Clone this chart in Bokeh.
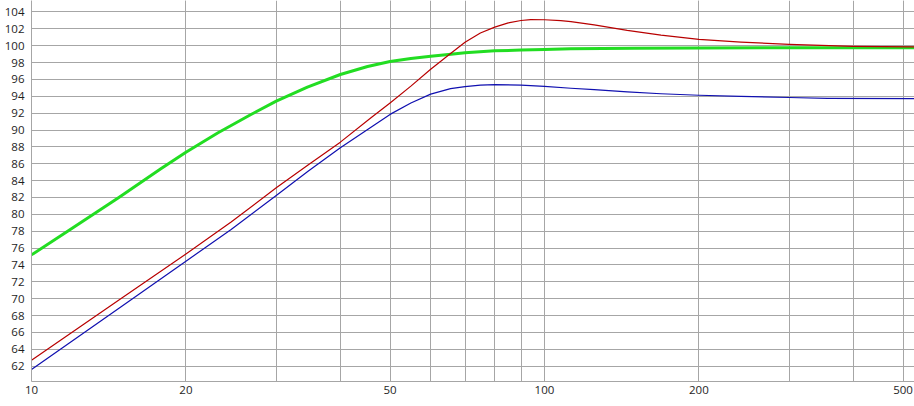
from bokeh.plotting import figure
from bokeh.models import FixedTicker, Range1d
from bokeh.embed import file_html
from bokeh.resources import INLINE

# ---- data (frequency in Hz, level in dB) ----
green_f = [10, 11.76, 14.8, 17.87, 20, 23.06, 26.78, 30, 34.5, 40, 45.2, 50, 54.9, 60,
           65.7, 70, 80, 90, 100, 112.6, 150, 200, 300, 400, 526.4]
green_db = [75.2, 78.0, 82.0, 85.4, 87.37, 89.65, 91.84, 93.42, 95.08, 96.58, 97.53,
            98.13, 98.48, 98.75, 98.98, 99.15, 99.38, 99.48, 99.55, 99.62, 99.7, 99.72,
            99.75, 99.75, 99.75]

red_f = [10, 15, 20, 24.5, 30, 34.6, 40, 45.9, 50, 54.9, 60, 65.7, 70, 75, 80, 85, 90,
         94, 100, 107.6, 112.6, 125, 145, 168.7, 200, 241.5, 300, 400, 526.4]
red_db = [62.7, 70.1, 75.3, 79.1, 83.15, 85.85, 88.56, 91.45, 93.2, 95.2, 97.2, 99.1,
          100.4, 101.5, 102.2, 102.7, 102.98, 103.08, 103.07, 102.97, 102.85, 102.45,
          101.8, 101.25, 100.75, 100.42, 100.15, 99.92, 99.85]

blue_f = [10, 15, 20, 24.5, 30, 34.6, 40, 45.9, 50, 54.9, 60, 65.6, 70, 75, 80, 90, 100,
          112.6, 125, 145, 168.7, 200, 241.5, 300, 356, 526.4]
blue_db = [61.6, 69.1, 74.45, 78.2, 82.24, 85.1, 87.9, 90.33, 91.85, 93.2, 94.25, 94.9,
           95.15, 95.32, 95.38, 95.33, 95.16, 94.95, 94.78, 94.52, 94.3, 94.12, 93.98,
           93.85, 93.76, 93.72]

x_major = [10, 20, 50, 100, 200, 500]
x_minor = [10, 20, 30, 40, 50, 60, 70, 80, 90, 100, 200, 300, 400, 500]
y_ticks = list(range(62, 105, 2))

GRID = "#a6a6a6"
FONT = "Open Sans"

p = figure(frame_width=883, frame_height=381,
           x_axis_type="log",
           x_range=Range1d(10, 526.4), y_range=Range1d(60.19, 105.35),
           output_backend="svg", toolbar_location=None,
           min_border_left=31, min_border_right=0, min_border_top=0, min_border_bottom=19,
           background_fill_color="white", border_fill_color="white")
p.outline_line_color = None

p.xaxis.ticker = FixedTicker(ticks=x_major, minor_ticks=x_minor)
p.xaxis.major_label_overrides = {v: str(v) for v in x_major}
p.yaxis.ticker = FixedTicker(ticks=y_ticks)
p.yaxis.major_label_overrides = {v: str(v) for v in y_ticks}

for ax in (p.xaxis, p.yaxis):
    ax.axis_line_color = GRID
    ax.major_tick_line_color = None
    ax.minor_tick_line_color = None
    ax.major_tick_out = 0
    ax.major_tick_in = 0
    ax.minor_tick_out = 0
    ax.minor_tick_in = 0
    ax.major_label_text_font = FONT
    ax.major_label_text_font_size = "11.5px"
    ax.major_label_text_color = "#1e1e1e"
p.xaxis.major_label_standoff = 4
p.yaxis.major_label_standoff = 7

p.xgrid.grid_line_color = GRID
p.xgrid.minor_grid_line_color = GRID
p.ygrid.grid_line_color = GRID
p.xgrid.grid_line_width = 1
p.ygrid.grid_line_width = 1

p.line(green_f, green_db, line_color="#22dd22", line_width=3, line_join="round")
p.line(blue_f, blue_db, line_color="#1010b0", line_width=1.2, line_join="round")
p.line(red_f, red_db, line_color="#b80000", line_width=1.2, line_join="round")

open("out.html", "w").write(file_html(p, INLINE))
